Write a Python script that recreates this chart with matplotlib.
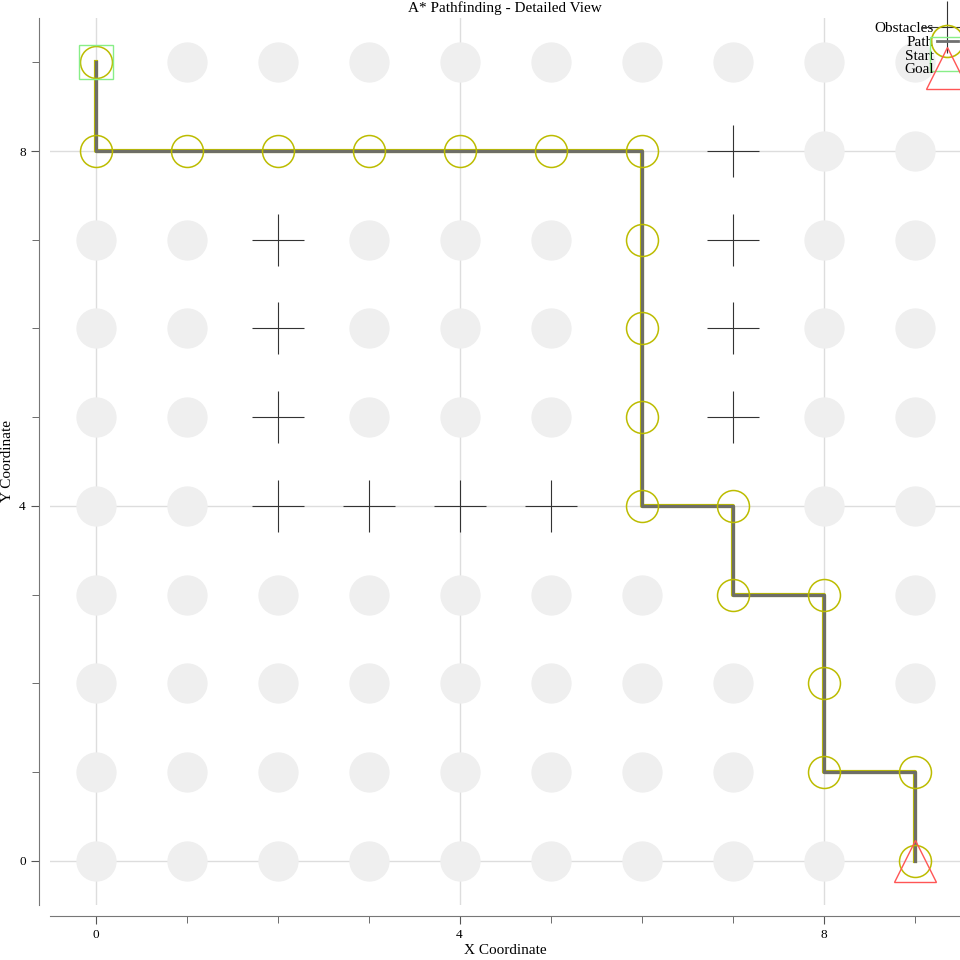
import matplotlib.pyplot as plt
from matplotlib.lines import Line2D
from matplotlib.ticker import MultipleLocator

grid_w = 10
grid_h = 10
obstacle_x = [7, 2, 7, 2, 7, 2, 7, 2, 3, 4, 5]
obstacle_y = [8, 7, 7, 6, 6, 5, 5, 4, 4, 4, 4]
path_x = [0, 0, 1, 2, 3, 4, 5, 6, 6, 6, 6, 6, 7, 7, 8, 8, 8, 9, 9]
path_y = [9, 8, 8, 8, 8, 8, 8, 8, 7, 6, 5, 4, 4, 3, 3, 2, 1, 1, 0]
start = (0, 9)
goal = (9, 0)

plt.rcParams['font.family'] = ['Liberation Serif', 'DejaVu Serif']

fig = plt.figure(figsize=(9.6, 9.6), dpi=100)
ax = fig.add_axes([50 / 960, 55 / 960, 910 / 960, 887 / 960])

# free cells (not obstacle, not on path)
blocked = set(zip(obstacle_x, obstacle_y)) | set(zip(path_x, path_y))
free_x, free_y = [], []
for x in range(grid_w):
    for y in range(grid_h):
        if (x, y) not in blocked:
            free_x.append(x)
            free_y.append(y)

ax.plot(free_x, free_y, 'o', ms=29, color='#efefef', mec='none', zorder=1)
ax.plot(obstacle_x, obstacle_y, '+', ms=38, color='#333333', mew=0.8, zorder=2)
ax.plot(path_x, path_y, '-', lw=3.0, color='#bcbc00', zorder=3)
ax.plot(path_x, path_y, '-', lw=2.3, color='#6e6e66', zorder=4)
ax.plot(path_x, path_y, 'o', ms=23, mfc='none', mec='#bcbc00', mew=1.1, zorder=5)
ax.plot(*start, 's', ms=24, mfc='none', mec='#88ee88', mew=1, zorder=6)
ax.plot(*goal, '^', ms=30, mfc='none', mec='#ff5555', mew=1, zorder=6)

ax.set_xlim(-0.5, 9.5)
ax.set_ylim(-0.5, 9.5)
ax.xaxis.set_major_locator(MultipleLocator(4))
ax.yaxis.set_major_locator(MultipleLocator(4))
ax.xaxis.set_minor_locator(MultipleLocator(1))
ax.yaxis.set_minor_locator(MultipleLocator(1))
ax.grid(True, which='major', color='#dddddd', lw=1)
ax.set_axisbelow(True)
ax.tick_params(which='both', direction='out', color='#555555', labelsize=9.5)
ax.tick_params(which='major', length=6)
ax.tick_params(which='minor', length=5)
for side in ['top', 'right']:
    ax.spines[side].set_visible(False)
for side in ['left', 'bottom']:
    ax.spines[side].set_position(('outward', 8))
    ax.spines[side].set_color('#777777')

ax.set_title('A* Pathfinding - Detailed View', fontsize=11, pad=4)
ax.set_xlabel('X Coordinate', fontsize=11, labelpad=2)
ax.set_ylabel('Y Coordinate', fontsize=11, labelpad=4)

handles = [
    Line2D([], [], ls='none', marker='+', ms=38, color='#333333', mew=0.8),
    Line2D([], [], ls='-', color='#707070', lw=2, marker='o', ms=23,
           mfc='none', mec='#bcbc00', mew=1.2),
    Line2D([], [], ls='none', marker='s', ms=24, mfc='none', mec='#88ee88'),
    Line2D([], [], ls='none', marker='^', ms=30, mfc='none', mec='#ff5555'),
]
ax.legend(handles, ['Obstacles', 'Path', 'Start', 'Goal'], loc='upper right',
          bbox_to_anchor=(0.998, 0.996), frameon=False, markerfirst=False,
          labelspacing=0.0, handlelength=1.4, handletextpad=0.2,
          borderaxespad=0, borderpad=0, fontsize=11)

fig.savefig('out.png', dpi=100)
